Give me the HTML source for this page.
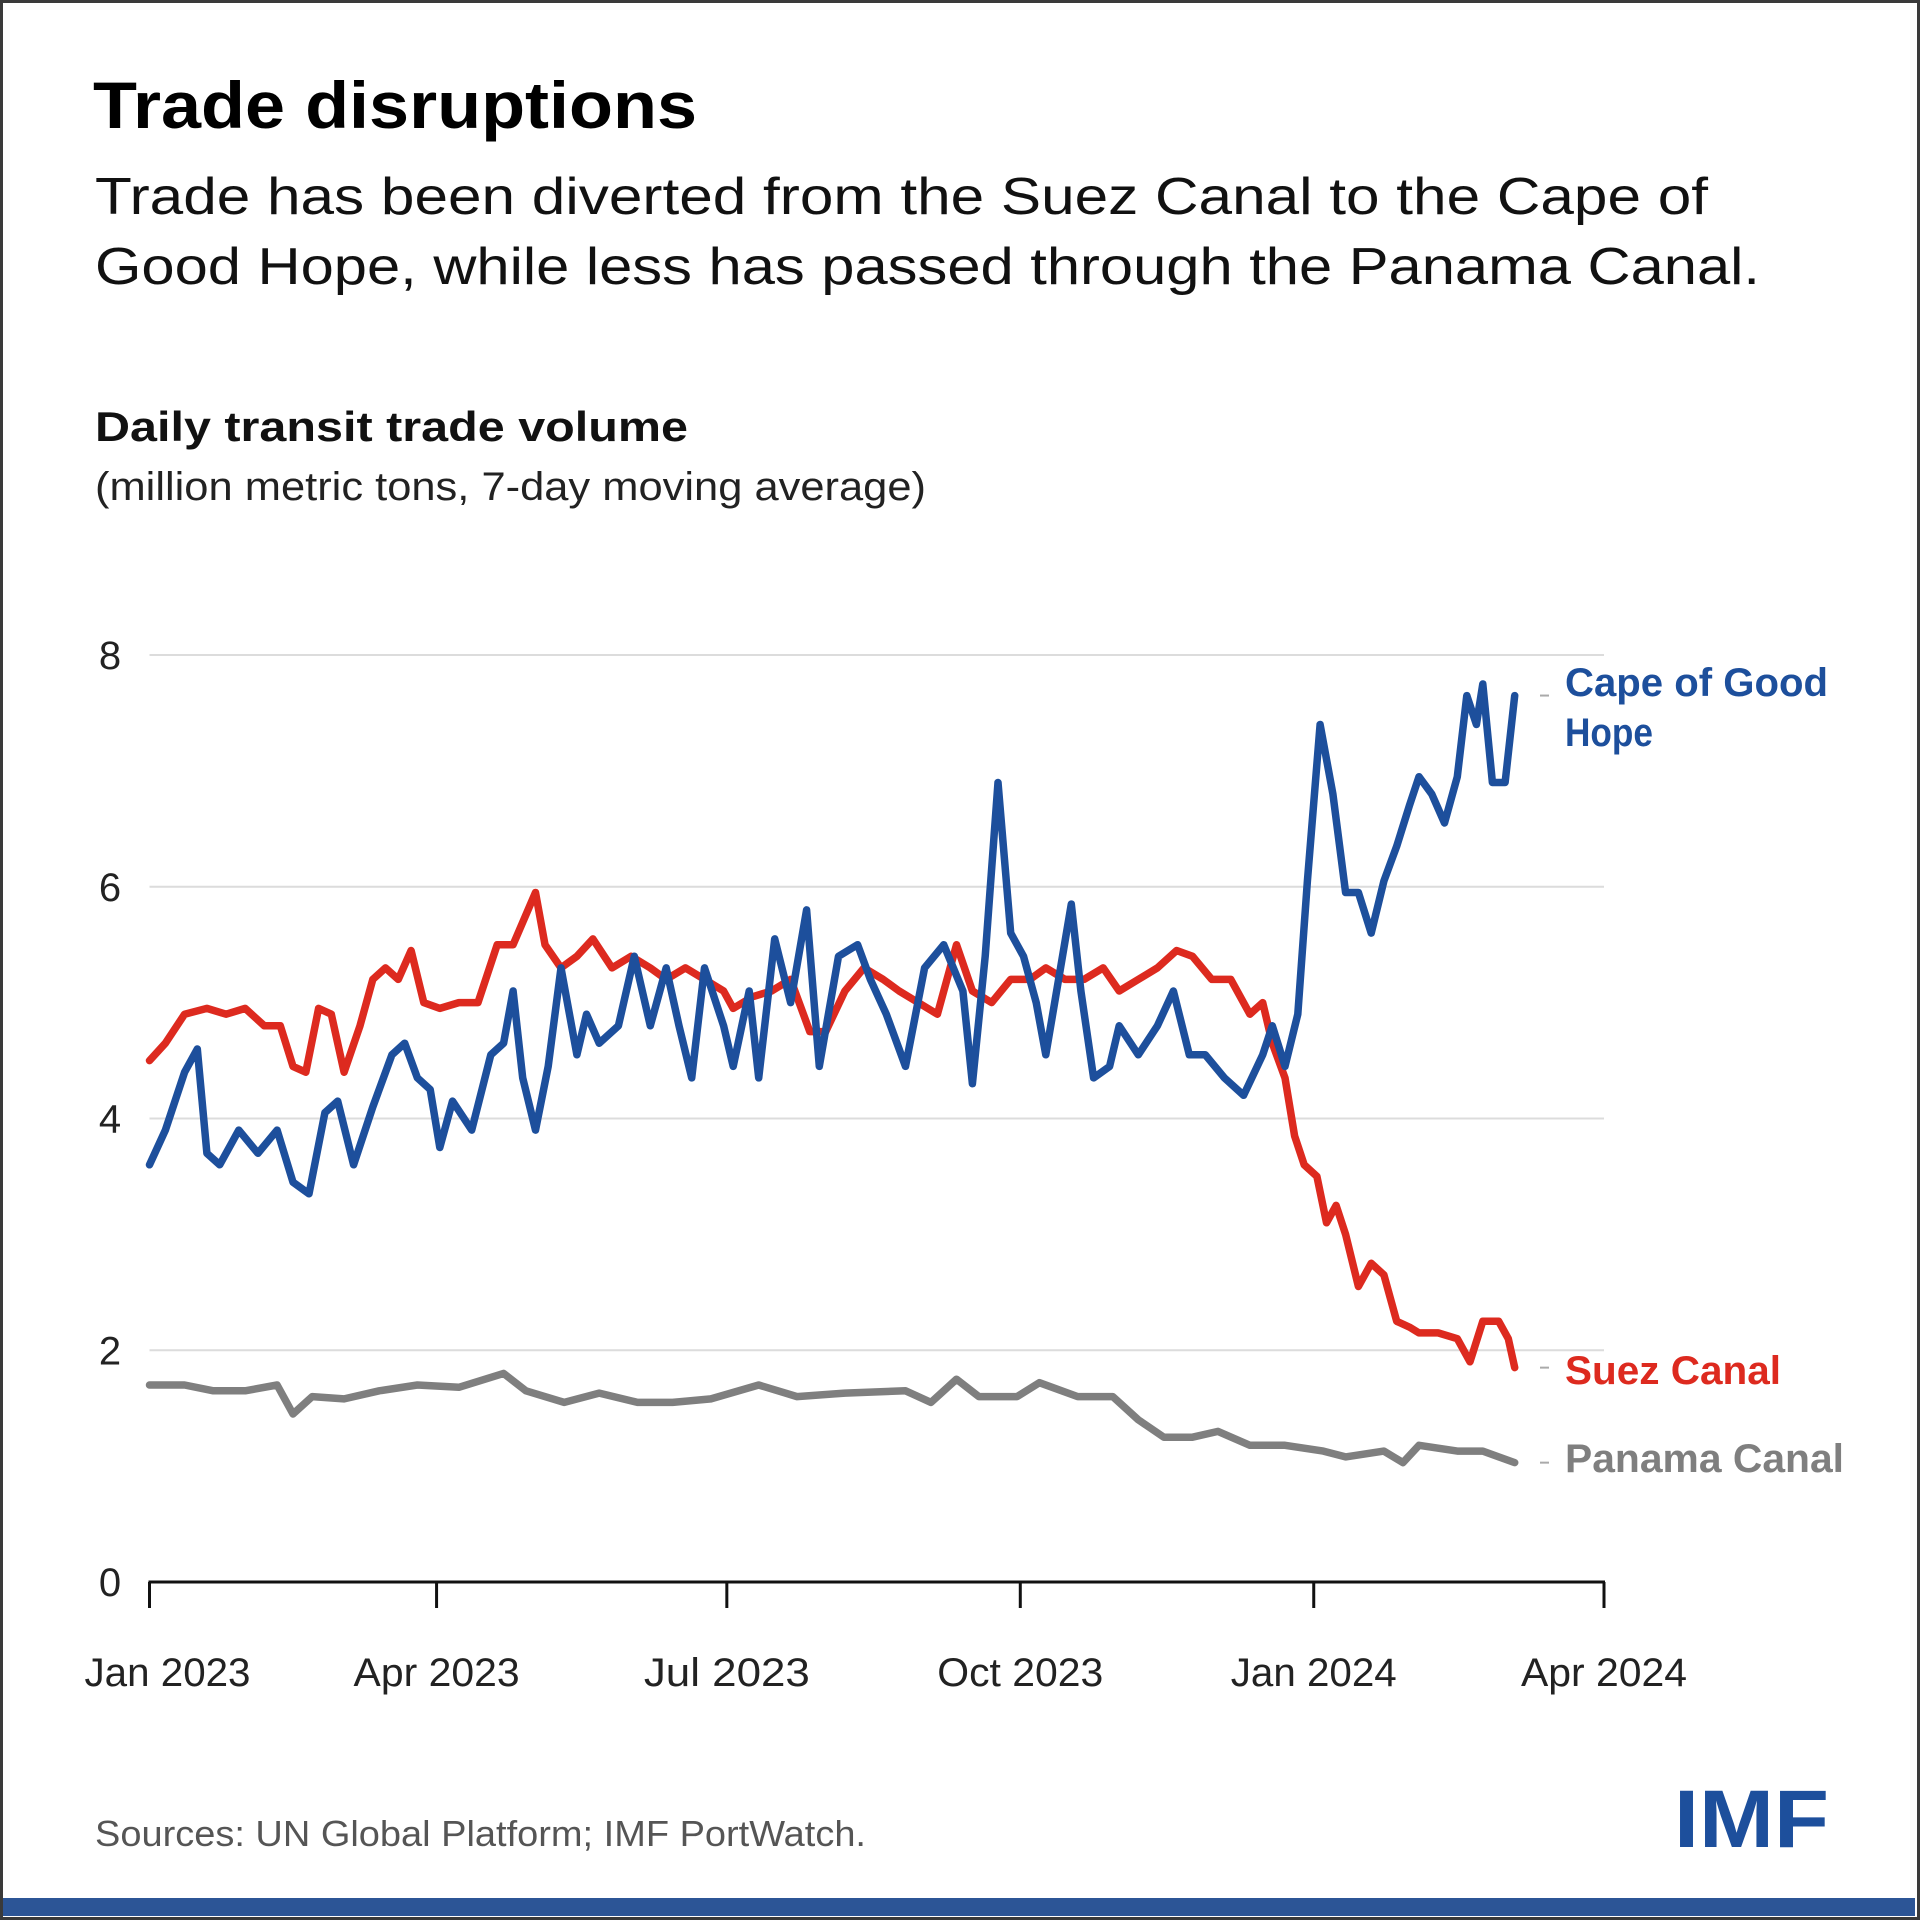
<!DOCTYPE html>
<html><head><meta charset="utf-8"><style>
html,body{margin:0;padding:0;background:#fff;}
svg{display:block;}
text{font-family:"Liberation Sans",sans-serif;}
</style></head><body>
<svg id="chart" width="1920" height="1920" viewBox="0 0 1920 1920" xmlns="http://www.w3.org/2000/svg">
<rect x="0" y="0" width="1920" height="1920" fill="#ffffff"/>
<rect x="1.5" y="1.5" width="1917" height="1917" fill="none" stroke="#3a3a3a" stroke-width="3"/>
<rect x="3" y="1898" width="1912" height="18" fill="#2c5596"/>
<text x="93" y="128" font-size="66" font-weight="bold" fill="#000" textLength="604" lengthAdjust="spacingAndGlyphs">Trade disruptions</text>
<text x="95" y="214" font-size="52" fill="#111" textLength="1613" lengthAdjust="spacingAndGlyphs">Trade has been diverted from the Suez Canal to the Cape of</text>
<text x="95" y="284" font-size="52" fill="#111" textLength="1665" lengthAdjust="spacingAndGlyphs">Good Hope, while less has passed through the Panama Canal.</text>
<text x="95" y="441" font-size="42" font-weight="bold" fill="#111" textLength="593" lengthAdjust="spacingAndGlyphs">Daily transit trade volume</text>
<text x="95" y="500" font-size="40" fill="#222" textLength="831" lengthAdjust="spacingAndGlyphs">(million metric tons, 7-day moving average)</text>
<g id="grid"></g>
<g id="axes"></g>
<g id="series"></g>
<g id="labels"></g>
<text x="95" y="1846" font-size="36" fill="#555" textLength="771" lengthAdjust="spacingAndGlyphs">Sources: UN Global Platform; IMF PortWatch.</text>
<text x="1674" y="1847" font-size="82" font-weight="bold" fill="#1d4f9c" textLength="155" lengthAdjust="spacingAndGlyphs">IMF</text>
</svg>
<script>
// ---- data (days since 2023-01-01) ----
const yTicks = [0, 2, 4, 6, 8];
const xTickDays = [0, 90, 181, 273, 365, 456];
const xTickLabels = ["Jan 2023", "Apr 2023", "Jul 2023", "Oct 2023", "Jan 2024", "Apr 2024"];

const capeDays = [0,5,11,15,18,22,28,34,40,45,50,55,59,64,70,76,80,84,88,91,95,101,107,111,114,117,121,125,129,134,137,141,147,152,157,162,166,170,174,180,183,188,191,196,201,206,210,216,222,226,231,237,243,249,255,258,262,266,270,274,278,281,285,289,292,296,301,304,310,316,321,326,331,337,343,349,352,356,360,363,367,371,375,379,383,387,391,395,398,402,406,410,413,416,418,421,425,428];
const capeValues = [3.6,3.9,4.4,4.6,3.7,3.6,3.9,3.7,3.9,3.45,3.35,4.05,4.15,3.6,4.1,4.55,4.65,4.35,4.25,3.75,4.15,3.9,4.55,4.65,5.1,4.35,3.9,4.45,5.3,4.55,4.9,4.65,4.8,5.4,4.8,5.3,4.8,4.35,5.3,4.8,4.45,5.1,4.35,5.55,5.0,5.8,4.45,5.4,5.5,5.2,4.9,4.45,5.3,5.5,5.1,4.3,5.4,6.9,5.6,5.4,5.0,4.55,5.2,5.85,5.1,4.35,4.45,4.8,4.55,4.8,5.1,4.55,4.55,4.35,4.2,4.55,4.8,4.45,4.9,6.05,7.4,6.8,5.95,5.95,5.6,6.05,6.35,6.7,6.95,6.8,6.55,6.95,7.65,7.4,7.75,6.9,6.9,7.65];

const suezDays = [0,5,11,18,24,30,36,41,45,49,53,57,61,66,70,74,78,82,86,91,97,103,109,114,121,124,129,134,139,145,151,157,162,168,174,180,183,189,195,201,207,212,218,224,230,235,241,247,253,258,264,270,276,281,287,293,299,304,310,316,322,327,333,339,345,349,352,356,359,362,366,369,372,375,379,383,387,391,395,398,404,410,414,418,423,426,428];
const suezValues = [4.5,4.65,4.9,4.95,4.9,4.95,4.8,4.8,4.45,4.4,4.95,4.9,4.4,4.8,5.2,5.3,5.2,5.45,5.0,4.95,5.0,5.0,5.5,5.5,5.95,5.5,5.3,5.4,5.55,5.3,5.4,5.3,5.2,5.3,5.2,5.1,4.95,5.05,5.1,5.2,4.75,4.75,5.1,5.3,5.2,5.1,5.0,4.9,5.5,5.1,5.0,5.2,5.2,5.3,5.2,5.2,5.3,5.1,5.2,5.3,5.45,5.4,5.2,5.2,4.9,5.0,4.65,4.35,3.85,3.6,3.5,3.1,3.25,3.0,2.55,2.75,2.65,2.25,2.2,2.15,2.15,2.1,1.9,2.25,2.25,2.1,1.85];

const panamaDays = [0,11,20,30,40,45,51,61,72,84,97,111,118,130,141,153,164,176,191,203,218,237,245,253,260,272,279,291,302,310,318,327,335,345,356,368,375,387,393,398,410,418,423,428];
const panamaValues = [1.7,1.7,1.65,1.65,1.7,1.45,1.6,1.58,1.65,1.7,1.68,1.8,1.65,1.55,1.63,1.55,1.55,1.58,1.7,1.6,1.63,1.65,1.55,1.75,1.6,1.6,1.72,1.6,1.6,1.4,1.25,1.25,1.3,1.18,1.18,1.13,1.08,1.13,1.03,1.18,1.13,1.13,1.08,1.03];

// ---- scales ----
const X0 = 149.5, X1 = 1604, DMAX = 456;
const Y0 = 1582, Y8 = 655, VMAX = 8;
function xScale(d){ return X0 + (X1 - X0) * d / DMAX; }
function yScale(v){ return Y0 - (Y0 - Y8) * v / VMAX; }

const NS = "http://www.w3.org/2000/svg";
function mk(tag, attrs, parent){
  const el = document.createElementNS(NS, tag);
  for (const k in attrs) el.setAttribute(k, attrs[k]);
  parent.appendChild(el);
  return el;
}
const grid = document.getElementById('grid');
const axes = document.getElementById('axes');
const series = document.getElementById('series');
const labels = document.getElementById('labels');

yTicks.forEach(function(v){
  if (v > 0) {
    const g = mk('line', {x1: X0, x2: X1, y1: yScale(v), y2: yScale(v), stroke: '#dcdcdc', 'stroke-width': 2}, grid);
    
    
  }
  const t = mk('text', {x: 110, y: yScale(v) + 14, 'font-size': 40, fill: '#222', 'text-anchor': 'middle'}, axes);
  t.textContent = String(v);
  
  
});

const ax = mk('line', {x1: X0 - 1, x2: X1 + 1, y1: Y0, y2: Y0, stroke: '#111', 'stroke-width': 3}, axes);



xTickDays.forEach(function(d, i){
  const tk = mk('line', {x1: xScale(d), x2: xScale(d), y1: Y0, y2: Y0 + 26, stroke: '#111', 'stroke-width': 3}, axes);
  
  
  const lx = i === 0 ? xScale(d) + 18 : xScale(d);
  const t = mk('text', {x: lx, y: 1686, 'font-size': 40, fill: '#222', 'text-anchor': 'middle', textLength: 166, lengthAdjust: 'spacingAndGlyphs'}, axes);
  t.textContent = xTickLabels[i];
  
  
});

function drawLine(days, vals, color, name){
  let d = '';
  for (let i = 0; i < days.length; i++) {
    d += (i ? 'L' : 'M') + xScale(days[i]).toFixed(1) + ',' + yScale(vals[i]).toFixed(1);
  }
  const p = mk('path', {d: d, fill: 'none', stroke: color, 'stroke-width': 7.5, 'stroke-linejoin': 'round', 'stroke-linecap': 'round'}, series);
  
  
}
drawLine(panamaDays, panamaValues, '#7f7f7f', 'panama-canal-line');
drawLine(suezDays, suezValues, '#dd2a1f', 'suez-canal-line');
drawLine(capeDays, capeValues, '#1d4f9c', 'cape-of-good-hope-line');

function addLabel(lines, y, color, name, widths, lastVal){
  const dash = mk('line', {x1: 1540, x2: 1549, y1: yScale(lastVal), y2: yScale(lastVal), stroke: '#aaa', 'stroke-width': 2}, labels);
  
  
  lines.forEach(function(s, i){
    const t = mk('text', {x: 1565, y: y + i * 50, 'font-size': 40, 'font-weight': 'bold', fill: color, textLength: widths[i], lengthAdjust: 'spacingAndGlyphs'}, labels);
    t.textContent = s;
    
    
  });
}
addLabel(['Cape of Good', 'Hope'], 696, '#1d4f9c', 'cape-of-good-hope-label', [263, 88], capeValues[capeValues.length - 1]);
addLabel(['Suez Canal'], 1384, '#dd2a1f', 'suez-canal-label', [216], suezValues[suezValues.length - 1]);
addLabel(['Panama Canal'], 1472, '#7f7f7f', 'panama-canal-label', [279], panamaValues[panamaValues.length - 1]);
</script>
</body></html>
